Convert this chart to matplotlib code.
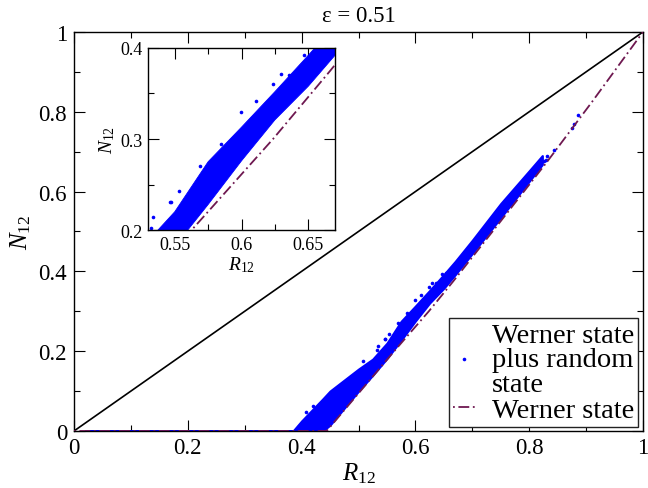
import matplotlib
matplotlib.use('Agg')
import matplotlib.pyplot as plt
from matplotlib.lines import Line2D
from matplotlib.ticker import MultipleLocator, FuncFormatter

plt.rcParams['font.family'] = ['Liberation Serif', 'DejaVu Serif']
plt.rcParams['mathtext.fontset'] = 'custom'
plt.rcParams['mathtext.rm'] = 'Liberation Serif'
plt.rcParams['mathtext.it'] = 'Liberation Serif:italic'

# ---------------- data ----------------
title = "ε = 0.51"
legend_labels = ["Werner state\nplus random\nstate", "Werner state"]

# Werner state curve (R12, N12)
werner_R = [0.0, 0.444, 0.5633, 0.6236, 0.6664, 0.75, 0.83, 0.9105, 1.0]
werner_N = [0.0, 0.0, 0.201, 0.300, 0.375, 0.526, 0.672, 0.825, 1.0]

# Dense cloud of "Werner + random state" points: lower / upper envelope
band_R = [0.02, 0.385, 0.40, 0.437, 0.45, 0.50, 0.525, 0.55, 0.575, 0.60,
          0.625, 0.65, 0.67, 0.70, 0.75, 0.80, 0.823]
band_lo = [0.0, 0.0, 0.0, 0.0, 0.015, 0.10, 0.14, 0.182, 0.228, 0.276,
           0.321, 0.358, 0.392, 0.445, 0.535, 0.626, 0.668]
band_hi = [0.0, 0.0, 0.025, 0.08, 0.10, 0.155, 0.18, 0.22, 0.275, 0.313,
           0.352, 0.392, 0.425, 0.478, 0.57, 0.652, 0.69]

# Isolated points outside the dense cloud
out_R = [0.5319, 0.5339, 0.5462, 0.547, 0.5532, 0.5689, 0.5809, 0.5847,
         0.5998, 0.6106, 0.6236, 0.6292, 0.6357, 0.6468, 0.6538,
         0.396, 0.408, 0.42, 0.443, 0.5076,
         0.826, 0.829, 0.832, 0.844, 0.876, 0.879, 0.885]
out_N = [0.2019, 0.214, 0.2304, 0.2304, 0.2432, 0.270, 0.278, 0.2945,
         0.3293, 0.342, 0.3604, 0.371, 0.3703, 0.3923, 0.3953,
         0.013, 0.047, 0.063, 0.076, 0.176,
         0.677, 0.679, 0.690, 0.705, 0.759, 0.769, 0.792]

# Diagonal reference line
diag_R = [0.0, 1.0]
diag_N = [0.0, 1.0]

# ---------------- style ----------------
BLUE = '#0000ff'
WCOL = '#6e1850'
WDASH = (1, 2, 6, 2)

fig = plt.figure(figsize=(6.48, 4.89), dpi=100)
ax = fig.add_axes([0.1142, 0.1166, 0.8781, 0.8160])
axin = fig.add_axes([0.2284, 0.5276, 0.2886, 0.3722])

fmt = FuncFormatter(lambda v, p: '%g' % round(v, 4))


def draw(a, edge_lw, ms):
    a.fill_between(band_R, band_lo, band_hi, facecolor=BLUE, edgecolor=BLUE,
                   linewidth=edge_lw, zorder=2)
    a.plot(out_R, out_N, linestyle='none', marker='o', ms=ms, mew=0,
           color=BLUE, zorder=2)
    a.plot(werner_R, werner_N, color=WCOL, lw=1.3, dashes=WDASH, zorder=3)


# main axes
ax.plot(diag_R, diag_N, color='k', lw=1.2, zorder=1)
draw(ax, 1.6, 2.6)
ax.set_xlim(0, 1)
ax.set_ylim(0, 1)
ax.xaxis.set_major_locator(MultipleLocator(0.2))
ax.yaxis.set_major_locator(MultipleLocator(0.2))
ax.xaxis.set_minor_locator(MultipleLocator(0.1))
ax.yaxis.set_minor_locator(MultipleLocator(0.1))
ax.xaxis.set_major_formatter(fmt)
ax.yaxis.set_major_formatter(fmt)
ax.tick_params(which='both', direction='in', top=True, right=True,
               labelsize=16.5, width=0.8)
ax.tick_params(axis='y', which='both', pad=5)
ax.tick_params(axis='x', which='both', pad=4)
ax.tick_params(which='major', length=8)
ax.tick_params(which='minor', length=4.5)
for s in ax.spines.values():
    s.set_linewidth(1.0)
ax.set_xlabel(r'$R_{\mathrm{12}}$', fontsize=18, labelpad=2)
ax.set_ylabel(r'$N_{\mathrm{12}}$', fontsize=18, labelpad=4)
ax.set_title(title, fontsize=16.5, pad=8)

handles = [Line2D([], [], linestyle='none', marker='o', ms=2.6, mew=0, color=BLUE),
           Line2D([], [], color=WCOL, lw=1.3, dashes=WDASH)]
leg = ax.legend(handles, legend_labels, loc='lower right',
                bbox_to_anchor=(0.992, 0.01), borderaxespad=0.0,
                fontsize=20.5, frameon=True, fancybox=False, framealpha=1,
                edgecolor='#222222', handlelength=0.75, handletextpad=0.6,
                labelspacing=0.0, borderpad=0.15)
leg.get_frame().set_linewidth(1.0)
for t in leg.get_texts():
    t.set_linespacing(0.98)

# inset
draw(axin, 0.6, 2.6)
axin.set_xlim(0.53, 0.67)
axin.set_ylim(0.2, 0.4)
axin.xaxis.set_major_locator(MultipleLocator(0.05))
axin.xaxis.set_minor_locator(MultipleLocator(0.025))
axin.yaxis.set_major_locator(MultipleLocator(0.1))
axin.yaxis.set_minor_locator(MultipleLocator(0.05))
axin.xaxis.set_major_formatter(fmt)
axin.yaxis.set_major_formatter(fmt)
axin.tick_params(which='both', direction='in', top=True, right=True,
                 labelsize=13, width=0.8, pad=4)
axin.tick_params(which='major', length=8)
axin.tick_params(which='minor', length=4.5)
for s in axin.spines.values():
    s.set_linewidth(1.0)
axin.set_xlabel(r'$R_{\mathrm{12}}$', fontsize=14, labelpad=1)
axin.set_ylabel(r'$N_{\mathrm{12}}$', fontsize=14, labelpad=2)

fig.savefig('out.png', dpi=100)
